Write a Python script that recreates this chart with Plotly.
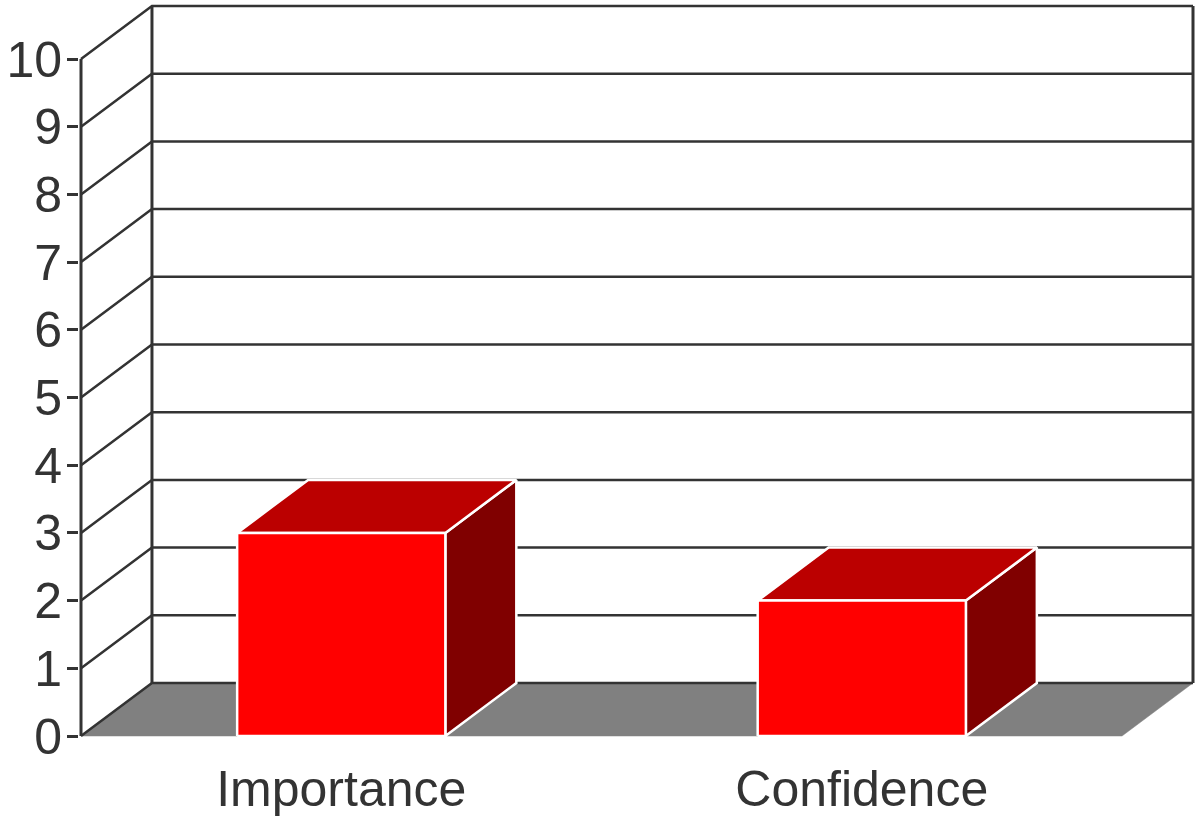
import plotly.graph_objects as go

categories = ["Importance", "Confidence"]
values = [3, 2]
y_ticks = [0, 1, 2, 3, 4, 5, 6, 7, 8, 9, 10]

BAND_PX = 520.75        # pixels per category band
UNIT_PX = 67.7          # pixels per value unit
DEPTH_X = 71 / BAND_PX  # oblique offset in category bands
DEPTH_Y = 53 / UNIT_PX  # oblique offset in value units
BAR_HALF = 0.2
N = len(categories)
INK = "#333333"
FONT = dict(family="Liberation Sans, Arial, sans-serif", size=50, color=INK)

fig = go.Figure()


def poly(xs, ys, fill, line_color, line_width):
    fig.add_trace(go.Scatter(
        x=xs, y=ys, mode="lines", fill="toself", fillcolor=fill,
        line=dict(color=line_color, width=line_width),
        hoverinfo="skip", showlegend=False,
    ))


def lines(xs, ys, width=2.5):
    fig.add_trace(go.Scatter(
        x=xs, y=ys, mode="lines", line=dict(color=INK, width=width),
        hoverinfo="skip", showlegend=False, connectgaps=False,
    ))


# floor
poly([0, N, N + DEPTH_X, DEPTH_X, 0], [0, 0, DEPTH_Y, DEPTH_Y, 0], "#808080", "#808080", 0.5)

# back wall gridlines and slanted side-wall lines
gx, gy = [], []
for v in y_ticks:
    gx += [0, DEPTH_X, N + DEPTH_X, None]
    gy += [v, v + DEPTH_Y, v + DEPTH_Y, None]
lines(gx, gy)

# wall verticals
top = y_ticks[-1]
lines([0, 0, None, DEPTH_X, DEPTH_X, None, N + DEPTH_X, N + DEPTH_X],
      [0, top, None, DEPTH_Y, top + DEPTH_Y, None, DEPTH_Y, top + DEPTH_Y], width=3)

# 3D bars
for i, v in enumerate(values):
    c = i + 0.5
    l, r = c - BAR_HALF, c + BAR_HALF
    poly([r, r + DEPTH_X, r + DEPTH_X, r, r], [0, DEPTH_Y, v + DEPTH_Y, v, 0], "#800000", "#ffffff", 2.5)
    poly([l, l + DEPTH_X, r + DEPTH_X, r, l], [v, v + DEPTH_Y, v + DEPTH_Y, v, v], "#bb0000", "#ffffff", 2.5)
    poly([l, r, r, l, l], [0, 0, v, v, 0], "#ff0000", "#ffffff", 2.5)

fig.update_layout(
    width=1199, height=820, autosize=False,
    margin=dict(l=78.5, r=3, t=3, b=82, pad=0),
    paper_bgcolor="#ffffff", plot_bgcolor="#ffffff",
    showlegend=False, font=FONT,
    xaxis=dict(
        range=[-2 / BAND_PX, N + DEPTH_X + 3 / BAND_PX],
        showgrid=False, zeroline=False, showline=False,
        tickmode="array", tickvals=[i + 0.5 for i in range(N)], ticktext=categories,
        ticks="", tickfont=FONT, ticklabelstandoff=17, automargin=False, fixedrange=True,
    ),
    yaxis=dict(
        range=[-2 / UNIT_PX, top + DEPTH_Y + 3 / UNIT_PX],
        showgrid=False, zeroline=False, showline=False,
        tickmode="array", tickvals=y_ticks, ticktext=[str(t) for t in y_ticks],
        ticks="outside", ticklen=11, tickwidth=2.5, tickcolor=INK,
        tickfont=FONT, ticklabelstandoff=-5, automargin=False, fixedrange=True,
    ),
)

fig.write_html(
    "out.html",
    config={"displayModeBar": False},
    post_script="document.body.style.margin='0';document.body.style.overflow='hidden';",
)
